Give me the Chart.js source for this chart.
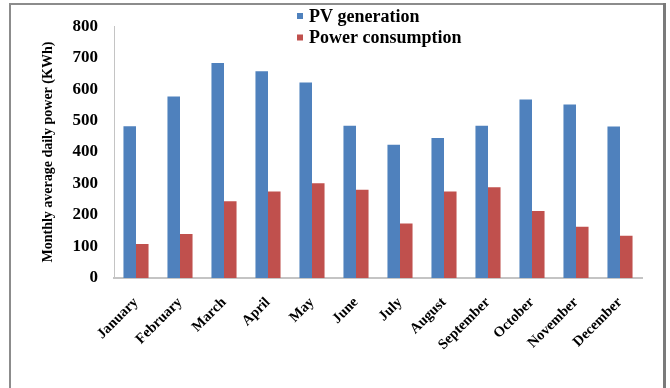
<!DOCTYPE html>
<html>
<head>
<meta charset="utf-8">
<script src="https://cdn.jsdelivr.net/npm/chart.js@4.4.1/dist/chart.umd.min.js"></script>
<style>
  html, body { margin: 0; padding: 0; background: #ffffff; }
  #wrap { width: 670px; height: 388px; position: relative; }
</style>
</head>
<body>
<div id="wrap"><canvas id="c" width="670" height="388"></canvas></div>
<script>
// Months on the category axis
const months = ['January', 'February', 'March', 'April', 'May', 'June',
                'July', 'August', 'September', 'October', 'November', 'December'];
// Monthly average daily power, kWh
const pvGeneration = [482, 577, 683, 657, 621, 484, 423, 445, 484, 567, 551, 481];
const powerConsumption = [108, 140, 244, 275, 301, 280, 173, 275, 288, 213, 163, 134];
// Series names
const seriesNames = ['PV generation', 'Power consumption'];
const seriesColors = ['#4F81BD', '#C0504D'];
// Value axis
const yMin = 0, yMax = 800, yStep = 100;
const yTitle = 'Monthly average daily power (KWh)';

const serif = "'Liberation Serif', 'Times New Roman', serif";

// Outer frame of the figure
const framePlugin = {
  id: 'frame',
  beforeDraw(chart) {
    const ctx = chart.ctx;
    ctx.save();
    ctx.fillStyle = '#ffffff';
    ctx.fillRect(0, 0, chart.width, chart.height);
    ctx.strokeStyle = '#8c8c8c';
    ctx.lineWidth = 2;
    ctx.beginPath();
    ctx.moveTo(10, 400);
    ctx.lineTo(10, 4);
    ctx.lineTo(664, 4);
    ctx.stroke();
    ctx.strokeStyle = '#7a7a7a';
    ctx.lineWidth = 3;
    ctx.beginPath();
    ctx.moveTo(664.5, 3);
    ctx.lineTo(664.5, 400);
    ctx.stroke();
    ctx.restore();
  }
};

// Stacked legend near the top centre
const stackedLegend = {
  id: 'stackedLegend',
  afterDraw(chart) {
    const ctx = chart.ctx;
    ctx.save();
    ctx.font = 'bold 18px ' + serif;
    ctx.textBaseline = 'middle';
    ctx.textAlign = 'left';
    chart.data.datasets.forEach((ds, i) => {
      const y = 16 + i * 21.5;
      ctx.fillStyle = ds.backgroundColor;
      ctx.fillRect(297, y - 3, 6, 6);
      ctx.fillStyle = '#000000';
      ctx.fillText(ds.label, 309, y + 1);
    });
    ctx.restore();
  }
};

new Chart(document.getElementById('c'), {
  type: 'bar',
  data: {
    labels: months,
    datasets: [
      { label: seriesNames[0], data: pvGeneration, backgroundColor: seriesColors[0] },
      { label: seriesNames[1], data: powerConsumption, backgroundColor: seriesColors[1] }
    ]
  },
  options: {
    responsive: false,
    animation: false,
    devicePixelRatio: 1,
    layout: { padding: { left: 40, top: 23, right: 28, bottom: 0 } },
    datasets: { bar: { categoryPercentage: 0.57, barPercentage: 1.0 } },
    plugins: {
      legend: { display: false },
      tooltip: { enabled: false }
    },
    scales: {
      x: {
        grid: { display: false, drawTicks: false },
        border: { display: true, color: '#c4c4c4', width: 2 },
        ticks: {
          color: '#000000',
          font: { family: serif, size: 14.5, weight: 'bold' },
          maxRotation: 45, minRotation: 45,
          padding: 16,
          autoSkip: false
        },
        afterFit(scale) { scale.height = 110; }
      },
      y: {
        min: yMin, max: yMax,
        grid: { display: false, drawTicks: false },
        border: { display: true, color: '#c4c4c4', width: 1 },
        ticks: {
          stepSize: yStep,
          color: '#000000',
          font: { family: serif, size: 17, weight: 'bold' },
          padding: 16
        },
        title: {
          display: true,
          text: yTitle,
          color: '#000000',
          font: { family: serif, size: 14, weight: 'bold' },
          padding: { top: 0, bottom: 0 }
        },
        afterFit(scale) { scale.width = 74; }
      }
    }
  },
  plugins: [framePlugin, stackedLegend]
});
</script>
</body>
</html>
